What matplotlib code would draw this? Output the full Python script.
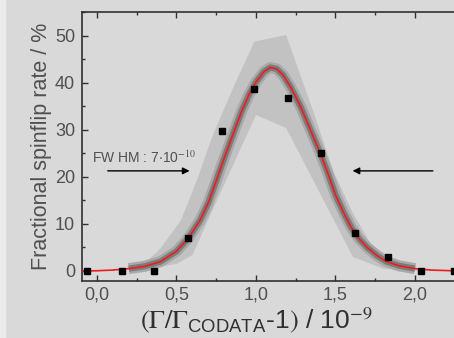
import numpy as np
import matplotlib.pyplot as plt
from matplotlib.ticker import MultipleLocator, FuncFormatter
from matplotlib.patches import Rectangle

plt.rcParams['font.family'] = ['Liberation Sans', 'DejaVu Sans']
plt.rcParams['mathtext.fontset'] = 'stix'

# measured spinflip rate
meas_x = [-0.06, 0.155, 0.36, 0.575, 0.785, 0.99, 1.2, 1.41, 1.62, 1.83, 2.04, 2.245]
meas_y = [0.0, 0.0, 0.0, 7.1, 29.7, 38.7, 36.9, 25.2, 8.0, 3.0, 0.0, 0.0]

# fitted curve
fit_x = [-0.09, 0.0, 0.1, 0.2, 0.3, 0.4, 0.5, 0.575, 0.65, 0.7, 0.75, 0.8, 0.86,
         0.91, 0.96, 1.0, 1.05, 1.09, 1.13, 1.17, 1.22, 1.28, 1.34, 1.40, 1.45,
         1.5, 1.55, 1.6, 1.65, 1.7, 1.76, 1.82, 1.9, 2.0, 2.1, 2.28]
fit_y = [0.0, 0.05, 0.2, 0.5, 1.0, 2.0, 4.2, 7.0, 10.9, 14.5, 19.2, 24.0, 29.5,
         34.0, 37.8, 40.2, 42.4, 43.3, 43.0, 41.7, 39.0, 35.0, 30.2, 25.4, 21.0,
         16.2, 12.5, 9.2, 6.8, 5.0, 3.3, 2.0, 1.1, 0.5, 0.2, 0.0]

# outer uncertainty band
band_up_x = [0.22, 0.28, 0.4, 0.53, 0.63, 0.73, 0.87, 0.99, 1.19, 1.37, 1.49, 1.61, 1.72, 1.9, 2.05]
band_up_y = [0.0, 1.0, 4.8, 10.9, 19.5, 29.0, 40.0, 48.8, 50.2, 33.0, 21.0, 12.3, 5.9, 0.9, 0.0]
band_lo_x = [0.22, 0.5, 0.6, 0.8, 1.0, 1.19, 1.4, 1.61, 1.8, 2.05]
band_lo_y = [0.0, 1.5, 3.4, 18.4, 33.2, 30.4, 16.7, 3.0, 0.5, 0.0]

bg = '#d9d9d9'
fig = plt.figure(figsize=(4.54, 3.38), dpi=100, facecolor=bg)
ax = fig.add_axes([82/454, 57/338, 377/454, 269/338])
ax.set_facecolor(bg)
fig.patches.append(Rectangle((0, 0), 5/454, 1, transform=fig.transFigure,
                             color='#ececec', zorder=0))

ax.fill(band_up_x + band_lo_x[::-1], band_up_y + band_lo_y[::-1],
        color='#c2c2c2', lw=0, zorder=1)

fx = np.array(fit_x)
fy = np.array(fit_y)
core = (fx > 0.15) & (fx < 2.05)
ax.plot(fx[core], fy[core], color='#a9a9a9', lw=8, solid_capstyle='butt', zorder=2)
ax.plot(fx[core], fy[core], color='#7c7c7c', lw=4.5, solid_capstyle='butt', zorder=3)
ax.plot(fx, fy, color='#ee1c1c', lw=1.2, zorder=4)
ax.plot(meas_x, meas_y, 's', color='black', ms=5, zorder=5, clip_on=False)

ax.set_xlim(-0.0943, 2.277)
ax.set_ylim(-2.13, 55.1)

ax.xaxis.set_major_locator(MultipleLocator(0.5))
ax.xaxis.set_minor_locator(MultipleLocator(0.25))
ax.yaxis.set_major_locator(MultipleLocator(10))
ax.yaxis.set_minor_locator(MultipleLocator(5))
ax.xaxis.set_major_formatter(FuncFormatter(lambda v, p: f'{v:.1f}'.replace('.', ',')))
ax.tick_params(which='both', direction='in', top=True, right=False,
               color='#303030', labelcolor='#505050', labelsize=13)
ax.tick_params(which='major', length=4, width=1)
ax.tick_params(which='minor', length=2.5, width=1)
ax.tick_params(axis='y', pad=5)
ax.tick_params(axis='x', pad=4)
ax.spines['right'].set_visible(False)
for s in ['left', 'top', 'bottom']:
    ax.spines[s].set_color('#303030')
    ax.spines[s].set_linewidth(1.2)

ax.set_ylabel('Fractional spinflip rate / %', fontsize=15.5, color='#505050', labelpad=2)
ax.set_xlabel(r'$(\Gamma/\Gamma_{\mathregular{CODATA}}$-1$)$ / 10$^{-9}$',
              fontsize=19, color='#303030')
ax.xaxis.set_label_coords(0.462, -0.09, transform=ax.transAxes)
ax.xaxis.label.set_va('top')

ax.text(-0.03, 23.0, r'FW HM : 7$\cdot$10$^{-10}$', fontsize=10, color='#505050')
ax.annotate('', xy=(0.6, 21.3), xytext=(0.05, 21.3),
            arrowprops=dict(arrowstyle='-|>', color='black', lw=1, mutation_scale=10))
ax.annotate('', xy=(1.59, 21.3), xytext=(2.13, 21.3),
            arrowprops=dict(arrowstyle='-|>', color='black', lw=1, mutation_scale=10))

fig.savefig('out.png', dpi=100, facecolor=bg)
